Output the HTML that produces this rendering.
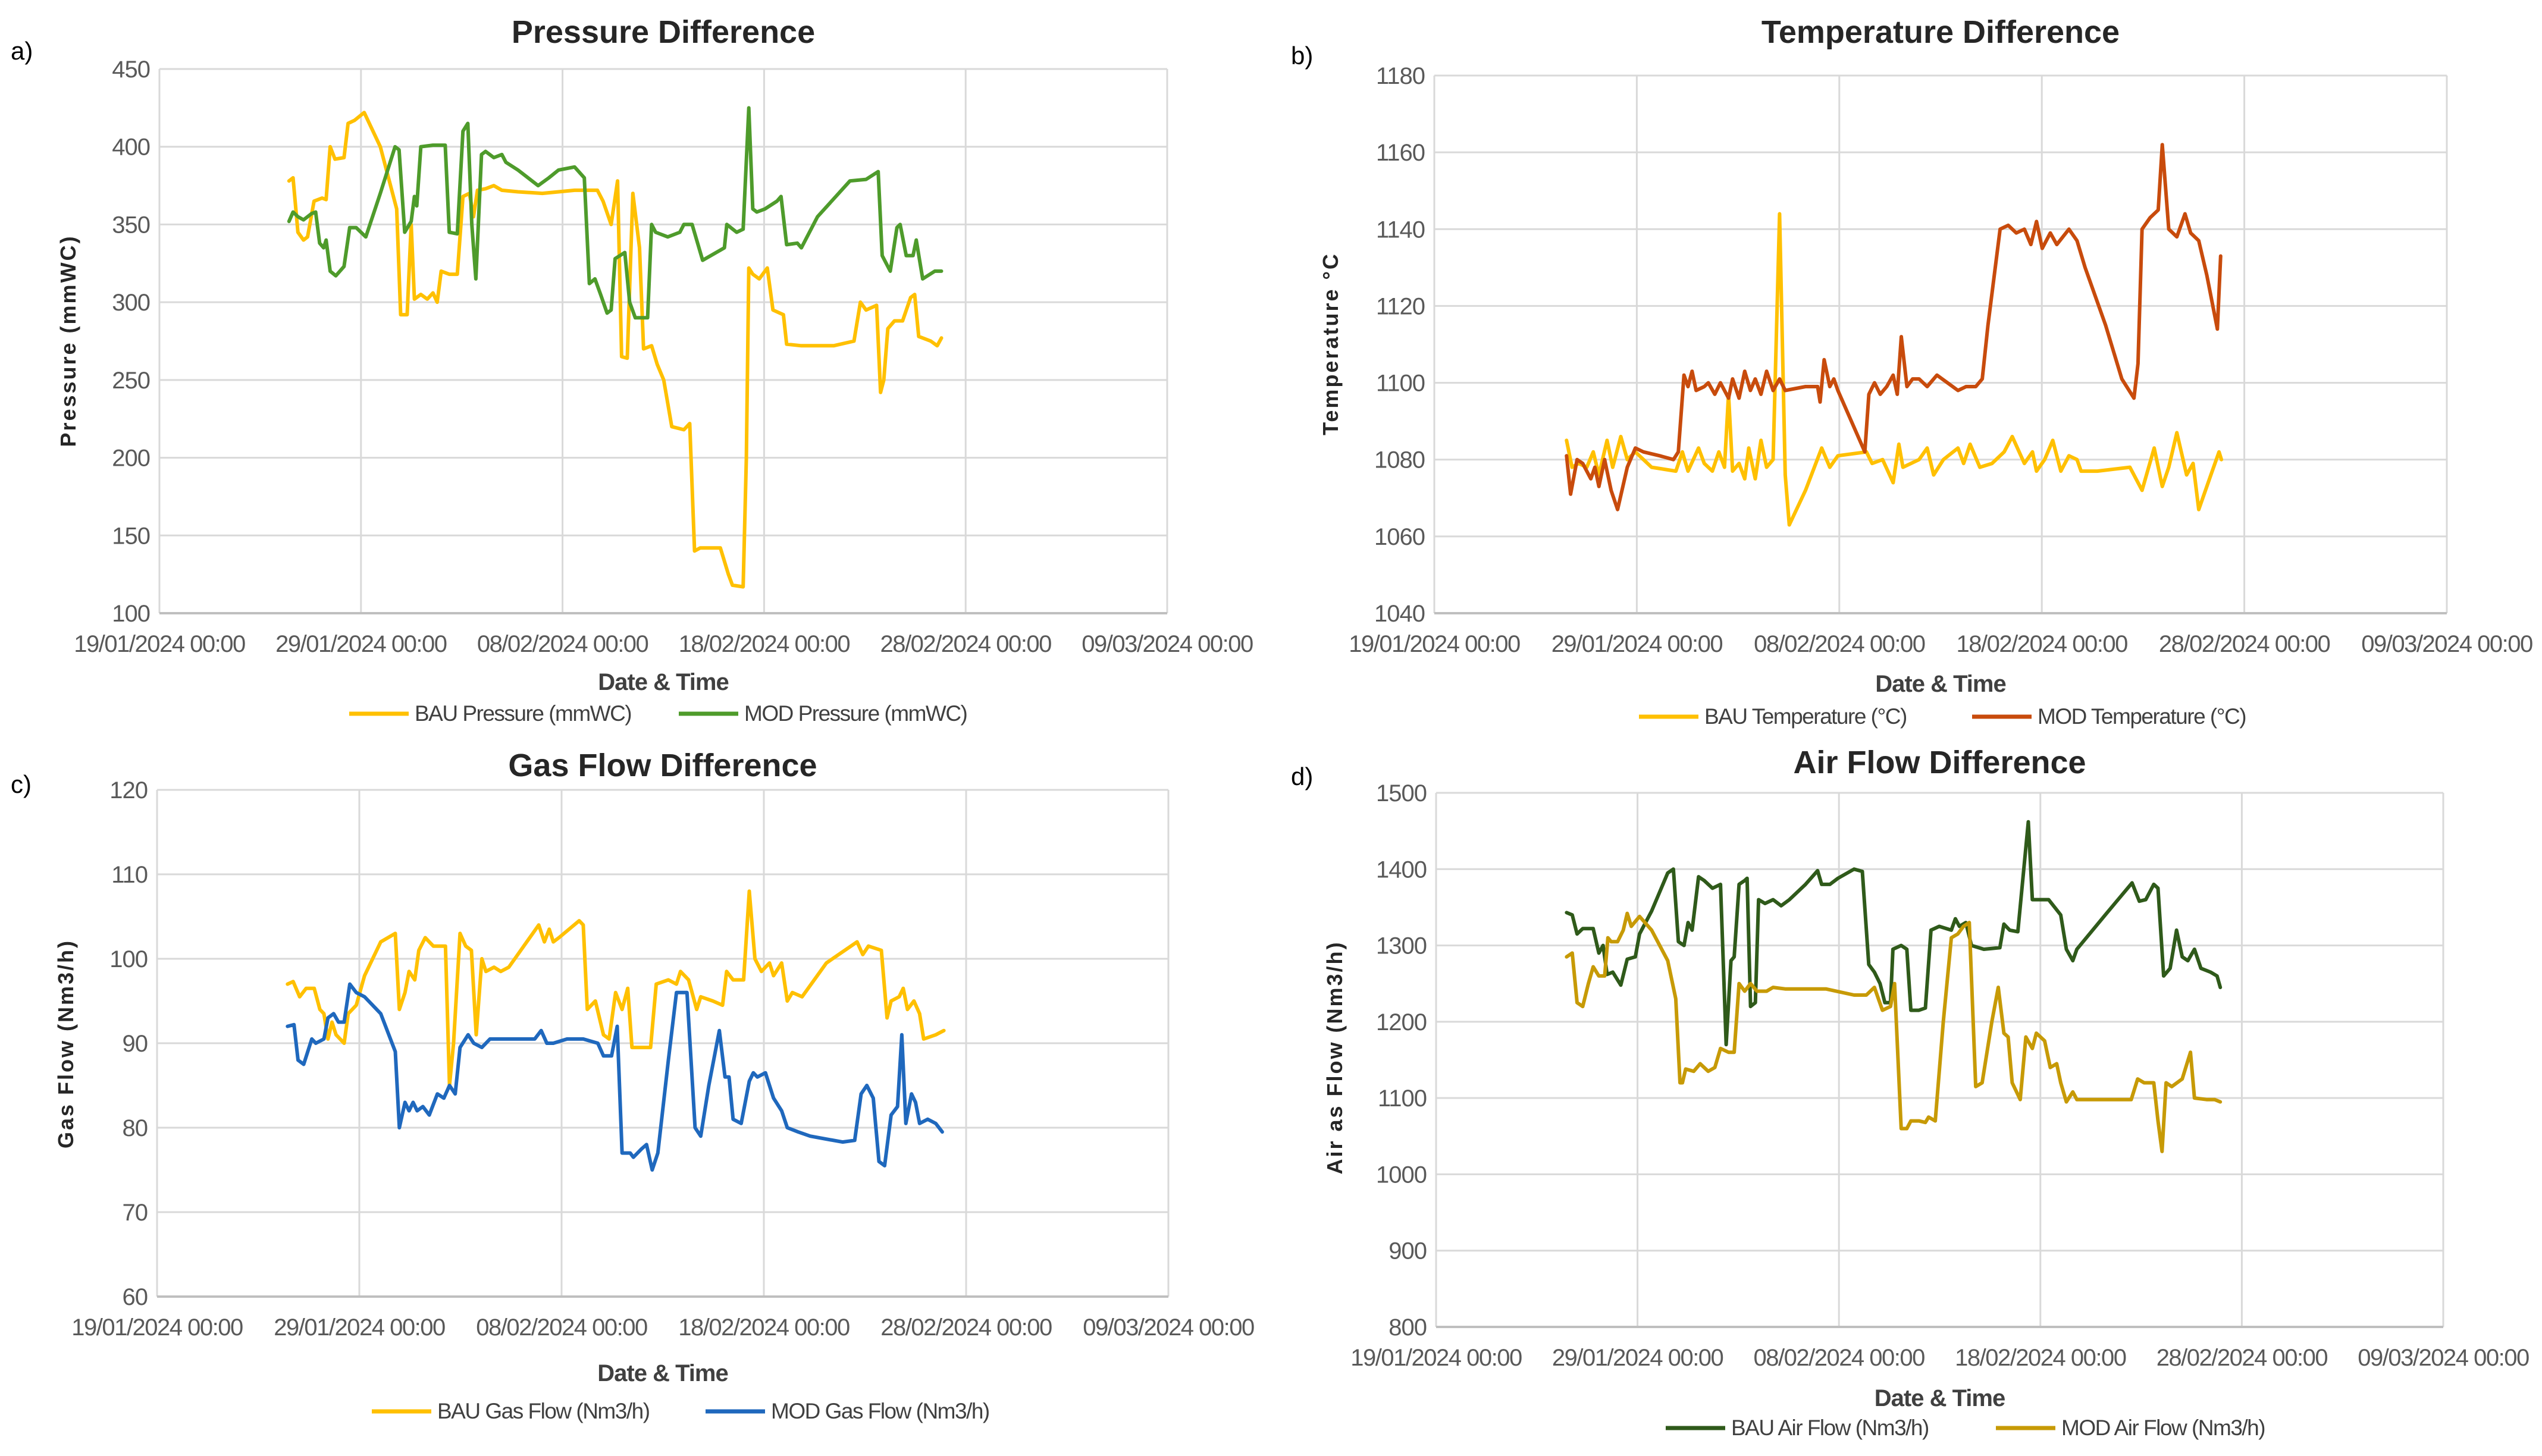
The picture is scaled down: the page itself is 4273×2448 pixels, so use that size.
<!DOCTYPE html>
<html><head><meta charset="utf-8"><style>
html,body{margin:0;padding:0;background:#fff}
svg{display:block}
text{font-family:"Liberation Sans",sans-serif}
</style></head><body>
<svg id="fig" width="4273" height="2448" viewBox="0 0 4273 2448" xmlns="http://www.w3.org/2000/svg"></svg>
<script>
const xTickLabels=["19/01/2024 00:00","29/01/2024 00:00","08/02/2024 00:00","18/02/2024 00:00","28/02/2024 00:00","09/03/2024 00:00"];
const xTickDays=[0,10,20,30,40,50];

const aTicks=[100,150,200,250,300,350,400,450];
const aBauX=[6.43,6.63,6.87,7.15,7.35,7.67,8.07,8.27,8.47,8.71,9.16,9.36,9.68,10.16,10.96,11.77,11.97,12.29,12.49,12.65,12.97,13.29,13.57,13.78,13.98,14.38,14.78,15.06,15.38,15.58,15.78,16.18,16.59,16.99,17.79,19.0,19.8,20.6,21.73,22.01,22.41,22.73,22.93,23.21,23.49,23.82,24.02,24.42,24.7,25.02,25.42,26.02,26.31,26.55,26.83,27.83,28.23,28.43,28.96,29.12,29.24,29.44,29.76,30.16,30.44,30.96,31.12,31.85,33.45,34.46,34.78,35.06,35.58,35.78,35.94,36.14,36.47,36.87,37.27,37.47,37.67,38.27,38.59,38.8];
const aBauY=[378,380,345,340,342,365,367,366,400,392,393,415,417,422,400,360,292,292,350,302,305,302,306,300,320,318,318,368,370,355,372,373,375,372,371,370,371,372,372,365,350,378,265,264,370,335,270,272,260,250,220,218,222,140,142,142,125,118,117,200,322,318,315,322,295,292,273,272,272,275,300,295,298,242,250,283,288,288,303,305,278,275,272,277];
const aModX=[6.43,6.63,6.87,7.15,7.55,7.75,7.95,8.15,8.27,8.47,8.75,9.16,9.44,9.76,10.24,10.96,11.69,11.89,12.17,12.49,12.65,12.77,12.97,13.57,14.18,14.38,14.78,15.06,15.3,15.5,15.7,15.98,16.18,16.59,16.99,17.19,17.79,18.79,19.32,19.8,20.6,21.08,21.33,21.61,21.89,22.21,22.41,22.61,23.09,23.33,23.61,24.22,24.42,24.62,25.22,25.82,26.02,26.43,26.95,28.03,28.15,28.64,28.96,29.24,29.44,29.64,30.04,30.64,30.84,31.12,31.65,31.85,32.65,34.26,35.06,35.66,35.86,36.26,36.59,36.75,37.05,37.39,37.55,37.87,38.47,38.8];
const aModY=[352,358,355,353,357,358,338,335,340,320,317,323,348,348,342,370,400,398,345,352,368,362,400,401,401,345,344,410,415,350,315,395,397,393,395,390,385,375,380,385,387,380,312,315,305,293,295,328,332,300,290,290,350,345,342,345,350,350,327,335,350,345,347,425,360,358,360,365,368,337,338,335,355,378,379,384,330,320,348,350,330,330,340,315,320,320];

const bTicks=[1040,1060,1080,1100,1120,1140,1160,1180];
const bBauX=[6.53,6.8,7.13,7.53,7.85,8.13,8.53,8.81,9.21,9.53,9.93,10.73,11.93,12.25,12.53,13.05,13.33,13.73,14.05,14.33,14.53,14.73,15.05,15.33,15.53,15.85,16.13,16.41,16.73,17.05,17.33,17.53,18.33,19.13,19.53,19.93,21.34,21.62,22.14,22.66,22.94,23.14,23.54,23.94,24.34,24.66,25.14,25.86,26.14,26.46,26.94,27.54,28.14,28.54,29.14,29.54,29.74,30.14,30.54,30.94,31.34,31.74,31.94,32.74,34.35,34.95,35.55,35.95,36.27,36.67,37.15,37.47,37.75,38.35,38.75,38.87];
const bBauY=[1085,1078,1079,1078,1082,1076,1085,1078,1086,1080,1082,1078,1077,1082,1077,1083,1079,1077,1082,1078,1097,1077,1079,1075,1083,1075,1085,1078,1080,1144,1076,1063,1072,1083,1078,1081,1082,1079,1080,1074,1084,1078,1079,1080,1083,1076,1080,1083,1079,1084,1078,1079,1082,1086,1079,1082,1077,1080,1085,1077,1081,1080,1077,1077,1078,1072,1083,1073,1078,1087,1076,1079,1067,1076,1082,1080];
const bModX=[6.53,6.73,7.05,7.33,7.73,7.93,8.13,8.41,8.73,9.05,9.53,9.93,10.33,11.13,11.81,12.05,12.33,12.53,12.73,12.93,13.33,13.53,13.85,14.13,14.53,14.73,15.05,15.33,15.61,15.85,16.13,16.41,16.73,17.05,17.33,18.33,18.93,19.05,19.25,19.53,19.73,19.93,21.26,21.46,21.74,22.02,22.34,22.66,22.86,23.06,23.34,23.62,23.94,24.34,24.82,25.34,25.86,26.26,26.74,27.06,27.34,27.94,28.34,28.74,29.14,29.46,29.74,30.02,30.42,30.74,31.34,31.74,32.14,33.15,33.95,34.55,34.75,34.95,35.35,35.75,35.95,36.27,36.67,37.07,37.35,37.75,38.15,38.67,38.83];
const bModY=[1081,1071,1080,1079,1075,1078,1073,1080,1072,1067,1078,1083,1082,1081,1080,1082,1102,1099,1103,1098,1099,1100,1097,1100,1096,1101,1096,1103,1098,1101,1097,1103,1098,1101,1098,1099,1099,1095,1106,1099,1101,1098,1082,1097,1100,1097,1099,1102,1097,1112,1099,1101,1101,1099,1102,1100,1098,1099,1099,1101,1115,1140,1141,1139,1140,1136,1142,1135,1139,1136,1140,1137,1130,1115,1101,1096,1105,1140,1143,1145,1162,1140,1138,1144,1139,1137,1128,1114,1133];

const cTicks=[60,70,80,90,100,110,120];
const cBauX=[6.45,6.73,7.05,7.37,7.77,8.05,8.25,8.45,8.65,8.85,9.25,9.45,9.85,10.26,11.06,11.78,11.98,12.26,12.46,12.74,12.94,13.26,13.66,14.26,14.46,14.66,14.98,15.26,15.54,15.78,16.06,16.26,16.66,16.99,17.39,18.87,19.15,19.39,19.59,19.87,20.87,21.07,21.27,21.67,22.07,22.35,22.67,22.99,23.27,23.48,24.08,24.4,24.68,25.28,25.68,25.88,26.28,26.68,26.88,27.48,27.96,28.16,28.48,29.0,29.28,29.56,29.88,30.28,30.48,30.88,31.16,31.41,31.89,33.09,34.61,34.89,35.17,35.81,36.09,36.29,36.69,36.89,37.1,37.42,37.7,37.9,38.5,38.9];
const cBauY=[97,97.3,95.5,96.5,96.5,94,93.5,90.5,92.5,91,90,93.5,94.5,98,102,103,94,96,98.5,97.5,101,102.5,101.5,101.5,85,90,103,101.5,101,91,100,98.5,99,98.5,99,104,102,103.5,102,102.5,104.5,104,94,95,91,90.5,96,94,96.5,89.5,89.5,89.5,97,97.5,97,98.5,97.5,94,95.5,95,94.5,98.5,97.5,97.5,108,100,98.5,99.5,98,99.5,95,96,95.5,99.5,102,100.5,101.5,101,93,95,95.5,96.5,94,95,93.5,90.5,91,91.5];
const cModX=[6.45,6.77,6.97,7.25,7.65,7.85,8.25,8.45,8.73,8.97,9.25,9.53,9.85,10.26,11.06,11.78,11.98,12.26,12.46,12.66,12.86,13.14,13.46,13.86,14.18,14.46,14.74,14.98,15.38,15.66,16.06,16.46,17.07,18.67,18.99,19.27,19.59,20.27,21.07,21.79,22.07,22.47,22.75,22.99,23.39,23.55,23.96,24.2,24.48,24.76,25.28,25.68,26.2,26.6,26.88,27.28,27.8,28.08,28.28,28.48,28.88,29.28,29.48,29.68,30.08,30.48,30.88,31.16,31.69,32.29,33.89,34.49,34.81,35.09,35.41,35.69,35.97,36.29,36.61,36.82,37.02,37.3,37.5,37.7,38.1,38.5,38.82];
const cModY=[92,92.2,88,87.5,90.5,90,90.5,93,93.5,92.5,92.5,97,96,95.5,93.5,89,80,83,82,83,82,82.5,81.5,84,83.5,85,84,89.5,91,90,89.5,90.5,90.5,90.5,91.5,90,90,90.5,90.5,90,88.5,88.5,92,77,77,76.5,77.5,78,75,77,88,96,96,80,79,85,91.5,86,86,81,80.5,85.5,86.5,86,86.5,83.5,82,80,79.5,79,78.3,78.5,84,85,83.5,76,75.5,81.5,82.5,91,80.5,84,83,80.5,81,80.5,79.5];

const dTicks=[800,900,1000,1100,1200,1300,1400,1500];
const dBauX=[6.48,6.76,7.0,7.28,7.8,8.08,8.29,8.49,8.77,9.17,9.49,9.89,10.1,10.7,11.5,11.78,12.03,12.31,12.51,12.71,13.03,13.31,13.72,14.12,14.4,14.64,14.8,15.04,15.32,15.44,15.61,15.85,16.01,16.33,16.73,17.13,17.54,18.34,18.94,19.14,19.55,19.95,20.75,21.16,21.48,21.76,22.04,22.28,22.56,22.68,23.09,23.37,23.57,23.97,24.29,24.57,24.98,25.58,25.78,25.98,26.3,26.58,27.19,27.99,28.19,28.48,28.88,29.4,29.6,30.0,30.41,31.01,31.29,31.61,31.81,33.22,34.55,34.91,35.23,35.63,35.84,36.12,36.44,36.76,37.04,37.32,37.65,37.97,38.45,38.77,38.93];
const dBauY=[1343,1340,1315,1322,1322,1290,1300,1262,1265,1248,1282,1285,1315,1345,1395,1400,1305,1300,1330,1320,1390,1385,1375,1380,1170,1280,1285,1380,1385,1388,1220,1225,1360,1355,1360,1352,1360,1380,1398,1380,1380,1388,1400,1397,1275,1265,1250,1225,1225,1295,1300,1295,1215,1215,1218,1320,1325,1320,1335,1325,1330,1300,1295,1297,1328,1320,1318,1462,1360,1360,1360,1340,1295,1280,1295,1340,1382,1358,1360,1380,1375,1260,1270,1320,1285,1280,1295,1270,1265,1260,1245];
const dModX=[6.48,6.76,7.0,7.28,7.56,7.8,8.08,8.37,8.53,8.69,9.01,9.29,9.49,9.69,10.1,10.7,11.5,11.9,12.11,12.23,12.39,12.79,13.11,13.51,13.84,14.12,14.52,14.8,15.04,15.32,15.61,15.93,16.41,16.73,17.33,18.54,19.35,20.75,21.36,21.76,22.16,22.56,22.76,23.09,23.37,23.57,23.97,24.29,24.45,24.78,25.18,25.58,25.9,26.18,26.47,26.79,27.11,27.59,27.91,28.19,28.4,28.6,29.0,29.28,29.6,29.8,30.21,30.49,30.81,31.01,31.29,31.61,31.81,33.22,34.51,34.83,35.15,35.63,35.84,36.04,36.24,36.52,37.04,37.45,37.65,38.25,38.65,38.93];
const dModY=[1285,1290,1225,1220,1250,1272,1260,1260,1310,1305,1305,1320,1342,1325,1338,1320,1280,1230,1120,1120,1138,1135,1145,1135,1140,1165,1160,1160,1250,1240,1250,1240,1240,1245,1243,1243,1243,1235,1235,1245,1215,1220,1250,1060,1060,1070,1070,1068,1075,1070,1200,1310,1315,1325,1330,1115,1120,1200,1245,1185,1180,1120,1098,1180,1165,1185,1175,1140,1145,1120,1095,1108,1098,1098,1098,1125,1120,1120,1070,1030,1120,1115,1125,1160,1100,1098,1098,1095];

const NS="http://www.w3.org/2000/svg";
const svg=document.getElementById('fig');
function mk(tag,attrs,parent){const e=document.createElementNS(NS,tag);for(const k in attrs)e.setAttribute(k,attrs[k]);(parent||svg).appendChild(e);return e;}

const panels=[
 {id:'pressure',letter:'a)',lx:18,ly:100,title:'Pressure Difference',x0:268,x1:1962,yT:116,yB:1031,ymin:100,ymax:450,ticks:aTicks,ytitle:'Pressure  (mmWC)',ytx:127,yty:573,xlabY:1096,xtitleY:1160,legY:1212,titleY:72,
  series:[{n:'bau-pressure',x:aBauX,y:aBauY,c:'#FFC000',label:'BAU Pressure (mmWC)'},{n:'mod-pressure',x:aModX,y:aModY,c:'#4E9B2B',label:'MOD Pressure (mmWC)'}],legX:[587,1141]},
 {id:'temperature',letter:'b)',lx:2170,ly:108,title:'Temperature Difference',x0:2411,x1:4113,yT:127,yB:1031,ymin:1040,ymax:1180,ticks:bTicks,ytitle:'Temperature  °C',ytx:2249,yty:578,xlabY:1096,xtitleY:1163,legY:1217,titleY:72,
  series:[{n:'bau-temperature',x:bBauX,y:bBauY,c:'#FFC000',label:'BAU Temperature  (°C)'},{n:'mod-temperature',x:bModX,y:bModY,c:'#C84B0C',label:'MOD Temperature  (°C)'}],legX:[2755,3315]},
 {id:'gas-flow',letter:'c)',lx:18,ly:1333,title:'Gas Flow Difference',x0:264,x1:1964,yT:1328,yB:2180,ymin:60,ymax:120,ticks:cTicks,ytitle:'Gas Flow  (Nm3/h)',ytx:123,yty:1755,xlabY:2245,xtitleY:2322,legY:2385,titleY:1305,
  series:[{n:'bau-gas-flow',x:cBauX,y:cBauY,c:'#FFC000',label:'BAU Gas Flow  (Nm3/h)'},{n:'mod-gas-flow',x:cModX,y:cModY,c:'#1F68BD',label:'MOD Gas Flow  (Nm3/h)'}],legX:[625,1186]},
 {id:'air-flow',letter:'d)',lx:2170,ly:1320,title:'Air Flow Difference',x0:2414,x1:4107,yT:1333,yB:2231,ymin:800,ymax:1500,ticks:dTicks,ytitle:'Air as Flow  (Nm3/h)',ytx:2256,yty:1778,xlabY:2296,xtitleY:2364,legY:2413,titleY:1300,
  series:[{n:'bau-air-flow',x:dBauX,y:dBauY,c:'#2F5A1A',label:'BAU Air Flow  (Nm3/h)'},{n:'mod-air-flow',x:dModX,y:dModY,c:'#C79A06',label:'MOD Air Flow  (Nm3/h)'}],legX:[2800,3355]}
];

panels.forEach(p=>{
 const g=mk('g',{});
 
 
 const xs=d=>p.x0+(d-0)/50*(p.x1-p.x0);
 const ys=v=>p.yB-(v-p.ymin)/(p.ymax-p.ymin)*(p.yB-p.yT);
 const cx=(p.x0+p.x1)/2;
 const t=mk('text',{x:cx,y:p.titleY,'font-size':54,'font-weight':'bold','text-anchor':'middle',fill:'#262626'},g);
 t.textContent=p.title;
 
 
 const lt=mk('text',{x:p.lx,y:p.ly,'font-size':42,fill:'#000'},g);
 lt.textContent=p.letter;
 
 
 p.ticks.forEach(v=>{
  const l=mk('line',{x1:p.x0,x2:p.x1,y1:ys(v),y2:ys(v),stroke:'#D9D9D9','stroke-width':3},g);
  
  
  const tx=mk('text',{x:p.x0-16,y:ys(v)+14,'font-size':40,'text-anchor':'end',fill:'#595959','letter-spacing':'-1'},g);
  tx.textContent=v;
  
  
 });
 xTickDays.forEach((d,i)=>{
  const l=mk('line',{x1:xs(d),x2:xs(d),y1:p.yT,y2:p.yB,stroke:'#D9D9D9','stroke-width':3},g);
  
  
  const tx=mk('text',{x:xs(d),y:p.xlabY,'font-size':40,'text-anchor':'middle',fill:'#595959','letter-spacing':'-1.5'},g);
  tx.textContent=xTickLabels[i];
  
  
 });
 const ax=mk('line',{x1:p.x0,x2:p.x1,y1:p.yB,y2:p.yB,stroke:'#BFBFBF','stroke-width':4},g);
 
 
 const xt=mk('text',{x:cx,y:p.xtitleY,'font-size':40,'font-weight':'bold','text-anchor':'middle',fill:'#404040','letter-spacing':'-1'},g);
 xt.textContent='Date & Time';
 
 
 const yt=mk('text',{x:p.ytx,y:p.yty,'font-size':36,'font-weight':'bold','text-anchor':'middle',fill:'#262626','letter-spacing':'3',transform:`rotate(-90 ${p.ytx} ${p.yty})`},g);
 yt.textContent=p.ytitle;
 
 
 p.series.forEach((s,si)=>{
  const pts=s.x.map((d,i)=>xs(d).toFixed(1)+','+ys(s.y[i]).toFixed(1)).join(' ');
  const pl=mk('polyline',{points:pts,fill:'none',stroke:s.c,'stroke-width':6,'stroke-linejoin':'round','stroke-linecap':'round'},g);
  
  
  const lx=p.legX[si];
  const ll=mk('line',{x1:lx,x2:lx+100,y1:p.legY-12,y2:p.legY-12,stroke:s.c,'stroke-width':7},g);
  
  
  const lt2=mk('text',{x:lx+110,y:p.legY,'font-size':37,fill:'#404040','letter-spacing':'-1.5'},g);
  lt2.textContent=s.label;
  
  
 });
});
</script>
</body></html>
